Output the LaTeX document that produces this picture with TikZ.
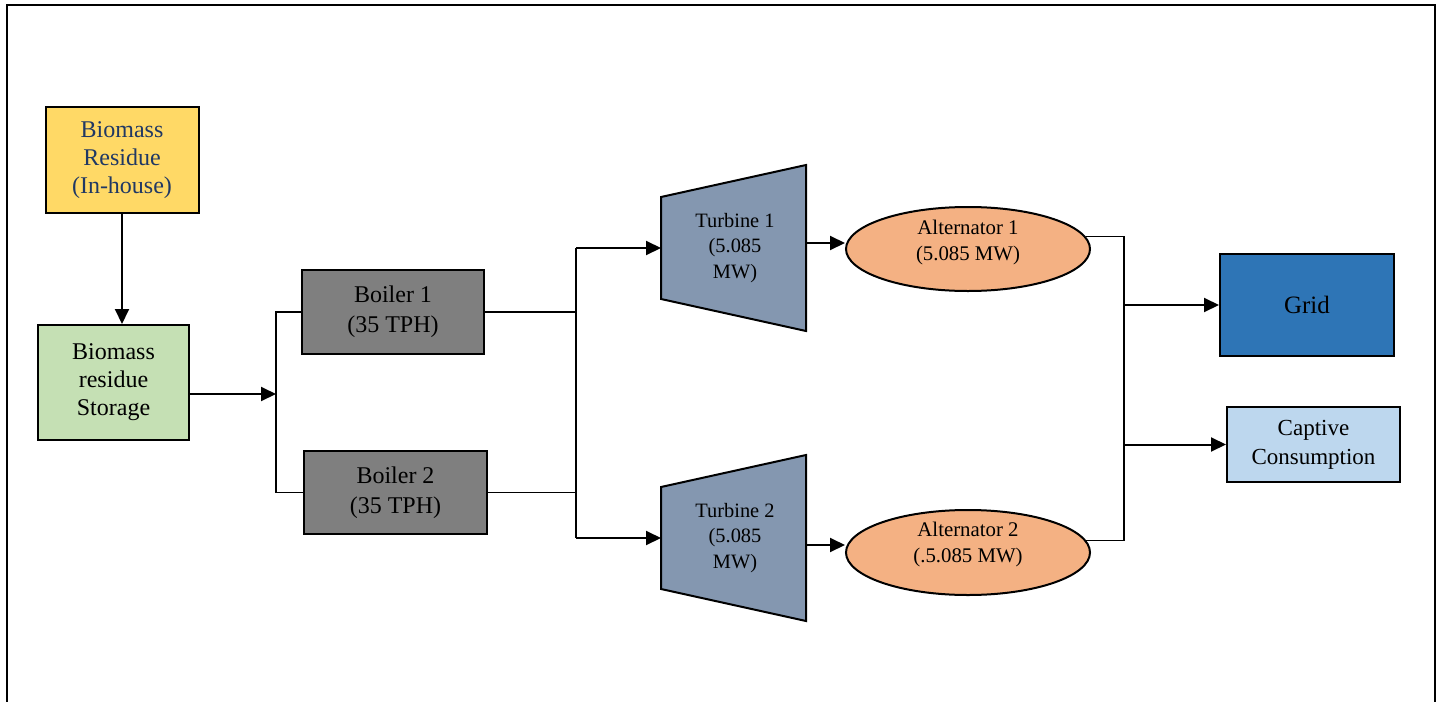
\documentclass[tikz,border=0pt]{standalone}
\usepackage{fontspec}
\setmainfont{Liberation Serif}
\usepackage{tikz}
\usetikzlibrary{arrows.meta,shapes}
\definecolor{resyellow}{HTML}{FFD966}
\definecolor{resblue}{HTML}{203864}
\definecolor{storgreen}{HTML}{C5E0B4}
\definecolor{boilgray}{HTML}{7F7F7F}
\definecolor{turbblue}{HTML}{8497B0}
\definecolor{altorange}{HTML}{F4B183}
\definecolor{gridblue}{HTML}{2E75B6}
\definecolor{capblue}{HTML}{BDD7EE}
\tikzset{x=0.5pt, y=-0.5pt,
  box/.style={draw, line width=1pt, align=center, inner sep=0pt},
  big/.style={font=\fontsize{12}{14}\selectfont},
  small/.style={font=\fontsize{10.2}{12.8}\selectfont},
  arr/.style={-{Triangle[length=7.5pt,width=7pt]}, line width=1pt},
  thin/.style={line width=0.6pt}}

\begin{document}
\begin{tikzpicture}
\useasboundingbox (0,0) rectangle (1442,702);
\draw[line width=1pt] (7,702) -- (7,5) -- (1435,5) -- (1435,702);

\node[box, big, fill=resyellow, text=resblue, minimum width=76.5pt, minimum height=53pt] (res) at (122,160) {Biomass\\Residue\\(In-house)};
\node[box, big, fill=storgreen, minimum width=75.5pt, minimum height=57.5pt] (store) at (113.5,382.5) {Biomass\\residue\\Storage};
\node[box, big, fill=boilgray, minimum width=91pt, minimum height=42pt, font=\fontsize{12}{15}\selectfont] (b1) at (393,312) {Boiler 1\\(35 TPH)};
\node[box, big, fill=boilgray, minimum width=91.5pt, minimum height=41.5pt, font=\fontsize{12}{15}\selectfont] (b2) at (395.5,492.5) {Boiler 2\\(35 TPH)};

\foreach \i/\y/\d in {1/248/-5,2/538/7} {
  \draw[line width=1pt, fill=turbblue] (661,\y-51) -- (806,\y-83) -- (806,\y+83) -- (661,\y+51) -- cycle;
  \node[small, align=center] (t\i) at (735,\y) {Turbine \i\\(5.085\\MW)};
  \coordinate (tin\i) at (661,\y);
  \coordinate (tout\i) at (806,\y+\d);
}

\node[box, ellipse, fill=altorange, minimum width=122pt, minimum height=42pt] (a1) at (968,249) {};
\node[small, align=center, font=\fontsize{10.4}{13}\selectfont] (a1t) at ([yshift=3.5pt]a1.center) {Alternator 1\\(5.085 MW)};
\node[box, ellipse, fill=altorange, minimum width=122pt, minimum height=42.5pt] (a2) at (968,552.5) {};
\node[small, align=center, font=\fontsize{10.4}{13}\selectfont] (a2t) at ([yshift=4pt]a2.center) {Alternator 2\\(.5.085 MW)};

\node[box, fill=gridblue, minimum width=87pt, minimum height=51pt, font=\fontsize{12.5}{15}\selectfont] (grid) at (1307,305) {Grid};
\node[box, fill=capblue, minimum width=86.5pt, minimum height=37.5pt, font=\fontsize{11.5}{14.5}\selectfont] (cap) at (1313.5,444.5) {Captive\\Consumption};

% storage to boilers
\coordinate (s1) at (276,394);
\draw[arr] (res.south) -- (res.south |- store.north);
\draw[arr] (store.east |- s1) -- (s1);
\draw[thin] (b1.west) -| (s1) |- (b2.west);

% boilers to turbines
\coordinate (s2) at (576,0);
\draw[thin] (b1.east) -- (b1.east -| s2);
\draw[thin] (b2.east) -- (b2.east -| s2);
\draw[thin] (tin1 -| s2) -- (tin2 -| s2);
\draw[arr] (tin1 -| s2) -- (tin1);
\draw[arr] (tin2 -| s2) -- (tin2);
\draw[arr] (tout1) -- (tout1 -| a1.west);
\draw[arr] (tout2) -- (tout2 -| a2.west);

% alternators to grid
\coordinate (s3) at (1124,0);
\draw[thin] (a1.6) -- (a1.6 -| s3) -- (a2.6 -| s3) -- (a2.6);
\draw[arr] (grid.west -| s3) -- (grid.west);
\draw[arr] (cap.west -| s3) -- (cap.west);
\end{tikzpicture}
\end{document}
